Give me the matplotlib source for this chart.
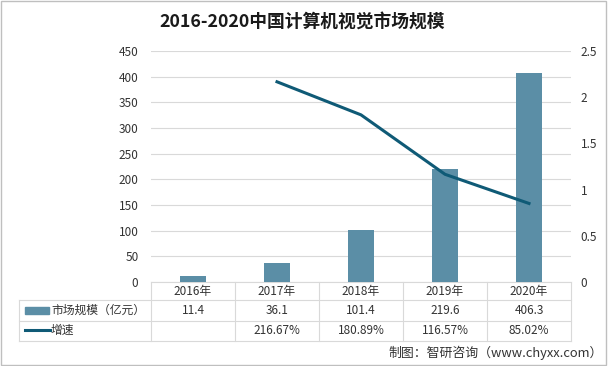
import matplotlib
matplotlib.use('Agg')
import matplotlib.pyplot as plt
import matplotlib.transforms as mtransforms
from matplotlib.patches import Rectangle
from matplotlib.lines import Line2D
import numpy as np

plt.rcParams['font.family'] = ['Noto Sans CJK SC', 'DejaVu Sans']

# data
years = ['2016年', '2017年', '2018年', '2019年', '2020年']
market = [11.4, 36.1, 101.4, 219.6, 406.3]
growth = [None, 2.1667, 1.8089, 1.1657, 0.8502]
market_labels = ['11.4', '36.1', '101.4', '219.6', '406.3']
growth_labels = ['', '216.67%', '180.89%', '116.57%', '85.02%']
left_ticks = [0, 50, 100, 150, 200, 250, 300, 350, 400, 450]
right_ticks = [0, 0.5, 1, 1.5, 2, 2.5]
right_tick_labels = ['0', '0.5', '1', '1.5', '2', '2.5']

bar_color = '#5B8EA6'
line_color = '#0F5A76'
grid_color = '#D9D9D9'
txt = '#333333'

fig = plt.figure(figsize=(6.08, 3.66), dpi=100)
ax = fig.add_axes([151/608, 1-282/366, 420/608, 231/366])
x = np.arange(len(years))

ax.bar(x, market, width=0.32, color=bar_color, zorder=3)
ax.set_xlim(-0.5, len(years)-0.5)
ax.set_ylim(0, 450)
ax.set_yticks(left_ticks)
ax.set_yticklabels([str(t) for t in left_ticks])
ax.grid(axis='y', color=grid_color, linewidth=0.8, zorder=0)
ax.set_xticks([])
for s in ['top', 'right', 'left']:
    ax.spines[s].set_visible(False)
ax.spines['bottom'].set_color(grid_color)
ax.tick_params(axis='y', length=0, pad=9, labelsize=8.5, colors=txt)

ax2 = ax.twinx()
gx = [i for i, g in enumerate(growth) if g is not None]
gy = [g for g in growth if g is not None]
ax2.plot(gx, gy, color=line_color, linewidth=2.2, zorder=4)
ax2.set_ylim(0, 2.5)
ax2.set_yticks(right_ticks)
ax2.set_yticklabels(right_tick_labels)
for s in ['top', 'right', 'left', 'bottom']:
    ax2.spines[s].set_visible(False)
ax2.tick_params(axis='y', length=0, pad=7, labelsize=8.5, colors=txt)

# data table below the plot
trans = mtransforms.blended_transform_factory(ax.transData, ax.transAxes)
h = 231.0
row_lines = [-18/h, -39/h, -59/h]
x_left = (19 - 151) / 420.0
for yl in row_lines:
    ax.add_line(Line2D([x_left, 1], [yl, yl], transform=ax.transAxes,
                       color=grid_color, linewidth=0.8, clip_on=False))
ax.add_line(Line2D([x_left, x_left], [row_lines[0], row_lines[-1]], transform=ax.transAxes,
                   color=grid_color, linewidth=0.8, clip_on=False))
for b in np.arange(len(years) + 1) - 0.5:
    ax.add_line(Line2D([b, b], [0, row_lines[-1]], transform=trans,
                       color=grid_color, linewidth=0.8, clip_on=False))

for i in range(len(years)):
    ax.text(x[i], -9/h, years[i], transform=trans, ha='center', va='center',
            fontsize=8.5, color=txt)
    ax.text(x[i], -28.5/h, market_labels[i], transform=trans, ha='center', va='center',
            fontsize=8.5, color=txt)
    ax.text(x[i], -49/h, growth_labels[i], transform=trans, ha='center', va='center',
            fontsize=8.5, color=txt)

# legend keys inside the table
ax.add_patch(Rectangle(((25-151)/420, -32/h), 24/420, 7/h, transform=ax.transAxes,
                       color=bar_color, clip_on=False))
ax.add_line(Line2D([(25-151)/420, (50-151)/420], [-48/h, -48/h], transform=ax.transAxes,
                   color=line_color, linewidth=2.2, clip_on=False))
ax.text((51-151)/420, -28.5/h, '市场规模（亿元）', transform=ax.transAxes, ha='left',
        va='center', fontsize=8.5, color=txt)
ax.text((51-151)/420, -48/h, '增速', transform=ax.transAxes, ha='left',
        va='center', fontsize=8.5, color=txt)

fig.text(0.497, 1-22/366, '2016-2020中国计算机视觉市场规模', ha='center', va='center',
         fontsize=12.8, fontweight='bold', color='#1a1a1a')
fig.text(603/608, 1-353/366, '制图：智研咨询（www.chyxx.com）', ha='right', va='center',
         fontsize=9.3, color=txt)

fig.add_artist(Rectangle((0.002, 0.003), 0.995, 0.993, transform=fig.transFigure,
                         fill=False, edgecolor='#BFBFBF', linewidth=1))

fig.savefig('out.png', dpi=100)
